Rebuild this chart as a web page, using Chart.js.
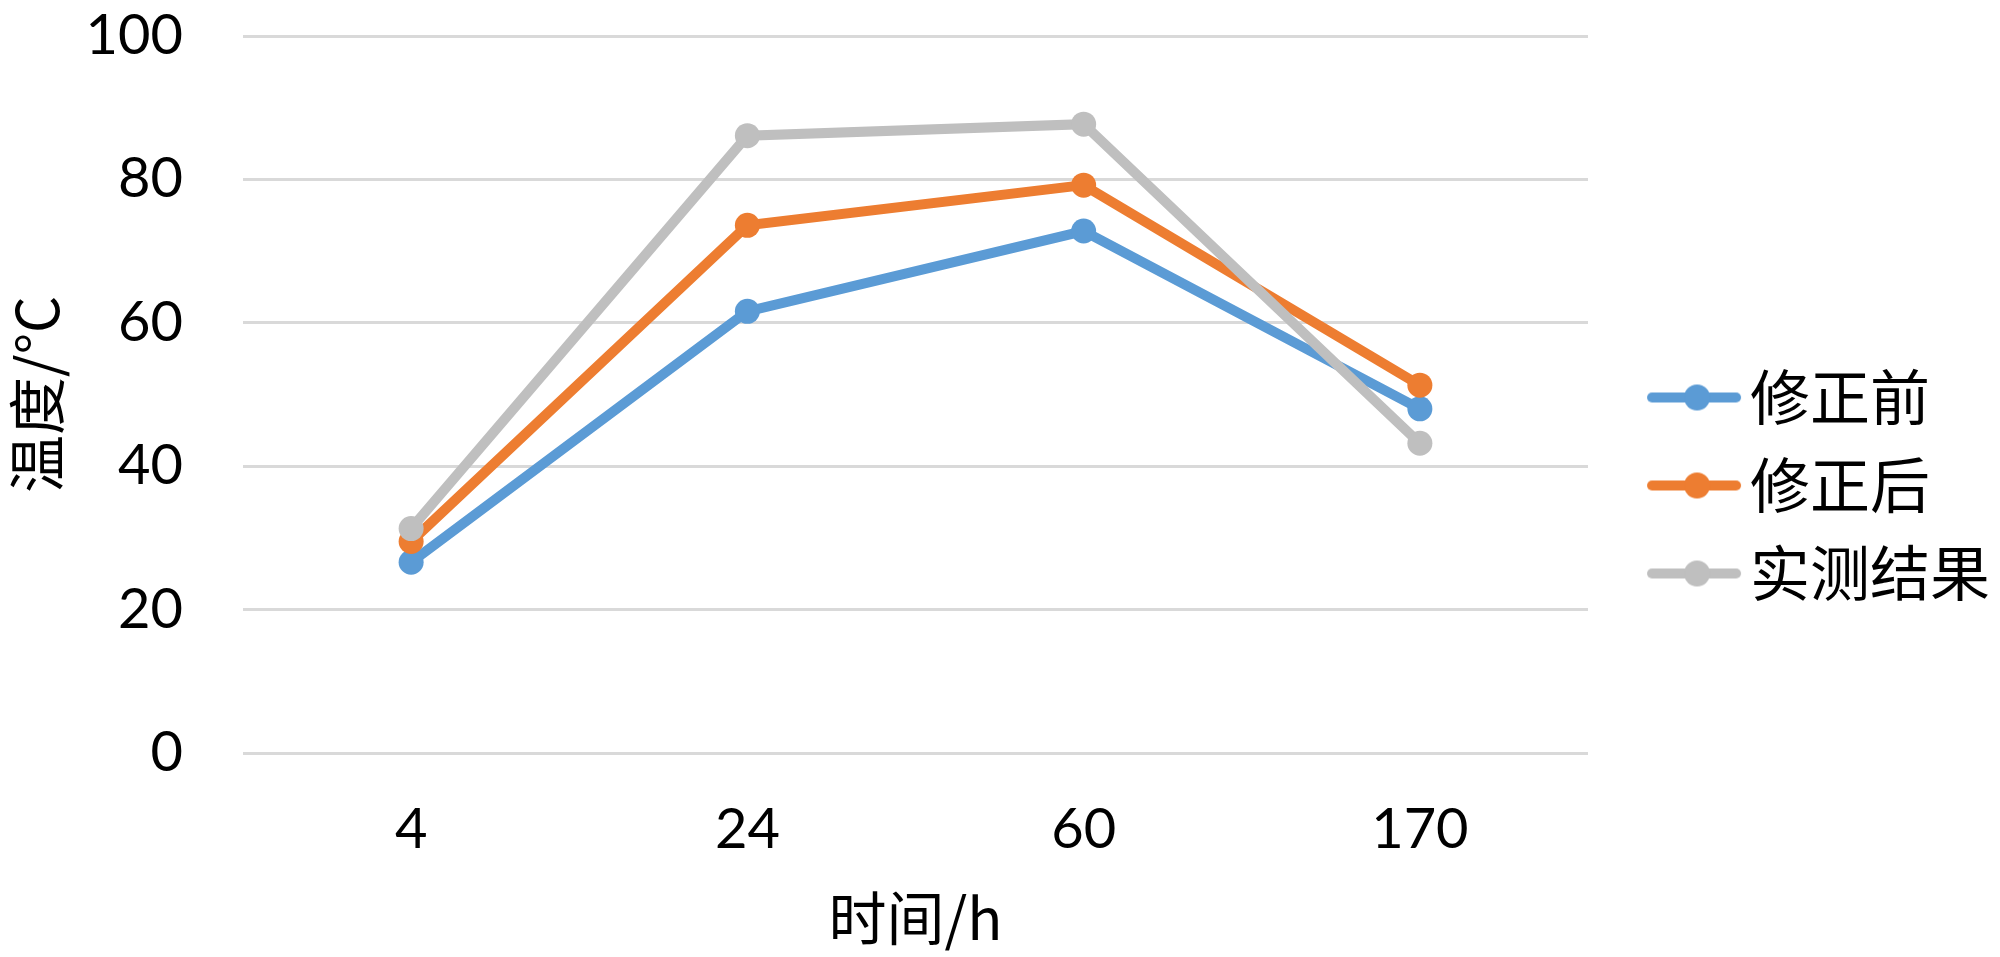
<!DOCTYPE html>
<html>
<head>
<meta charset="utf-8">
<script src="https://cdn.jsdelivr.net/npm/chart.js@4.4.0/dist/chart.umd.min.js"></script>
<style>
  html, body { margin: 0; padding: 0; background: #fff; }
</style>
</head>
<body>
<canvas id="chart" width="2000" height="957"></canvas>
<script>
const categories = ['4', '24', '60', '170'];
const beforeFix = [26.6, 61.6, 72.8, 48.0];
const afterFix = [29.5, 73.6, 79.2, 51.3];
const measured = [31.3, 86.1, 87.7, 43.2];
const seriesNames = ['修正前', '修正后', '实测结果'];
const seriesColors = ['#5B9BD5', '#ED7D31', '#BFBFBF'];
const yTicks = [0, 20, 40, 60, 80, 100];
const xTitle = '时间/h';
const yTitle = '温度/°C';

const numFont = 'Lato, "Noto Sans CJK SC", sans-serif';
const cjkFont = '"Noto Sans CJK SC", Lato, sans-serif';

// legend symbol: line with a dot, transparent margin on the left
function legendIcon(color) {
    const c = document.createElement('canvas');
    c.width = 156;
    c.height = 30;
    const g = c.getContext('2d');
    g.strokeStyle = color;
    g.lineWidth = 10;
    g.lineCap = 'round';
    g.beginPath();
    g.moveTo(62, 15);
    g.lineTo(146, 15);
    g.stroke();
    g.fillStyle = color;
    g.beginPath();
    g.arc(107, 15, 13, 0, Math.PI * 2);
    g.fill();
    return c;
}

const seriesData = [beforeFix, afterFix, measured];

new Chart(document.getElementById('chart'), {
    type: 'line',
    data: {
        labels: categories,
        datasets: seriesData.map((d, i) => ({
            label: seriesNames[i],
            data: d,
            order: seriesData.length - i,
            borderColor: seriesColors[i],
            backgroundColor: seriesColors[i],
            borderWidth: 10,
            pointRadius: 12.5,
            pointHoverRadius: 12.5,
            pointBorderWidth: 0,
            tension: 0,
            fill: false
        }))
    },
    options: {
        responsive: false,
        devicePixelRatio: 1,
        animation: false,
        layout: { padding: { top: 36, right: 0, bottom: 22, left: 0 } },
        plugins: {
            tooltip: { enabled: false },
            legend: {
                position: 'right',
                align: 'center',
                labels: {
                    usePointStyle: true,
                    pointStyleWidth: 104,
                    padding: 28,
                    color: '#000',
                    font: { family: cjkFont, size: 60 },
                    sort: (a, b) => a.datasetIndex - b.datasetIndex,
                    generateLabels(chart) {
                        const items = Chart.defaults.plugins.legend.labels.generateLabels(chart);
                        items.forEach(it => { it.pointStyle = legendIcon(seriesColors[it.datasetIndex]); });
                        return items;
                    }
                }
            }
        },
        scales: {
            x: {
                offset: true,
                grid: { display: false, drawTicks: false },
                border: { display: false },
                ticks: { color: '#000', font: { family: numFont, size: 56 }, padding: 43 },
                title: {
                    display: true,
                    text: xTitle,
                    color: '#000',
                    font: { family: cjkFont, size: 58, lineHeight: 1 },
                    padding: { top: 0, bottom: -12 }
                },
                afterFit(scale) { scale.height = 182; }
            },
            y: {
                min: 0,
                max: 100,
                afterBuildTicks(scale) { scale.ticks = yTicks.map(v => ({ value: v })); },
                grid: { color: '#D9D9D9', lineWidth: 3, drawTicks: true, tickLength: 60, tickColor: 'rgba(0,0,0,0)' },
                border: { display: false },
                ticks: { color: '#000', font: { family: numFont, size: 56 }, padding: 0 },
                title: {
                    display: true,
                    text: yTitle,
                    color: '#000',
                    font: { family: cjkFont, size: 58, lineHeight: 1 },
                    padding: { top: 8, bottom: 0 }
                },
                afterFit(scale) { scale.width = 243; }
            }
        }
    }
});
</script>
</body>
</html>
